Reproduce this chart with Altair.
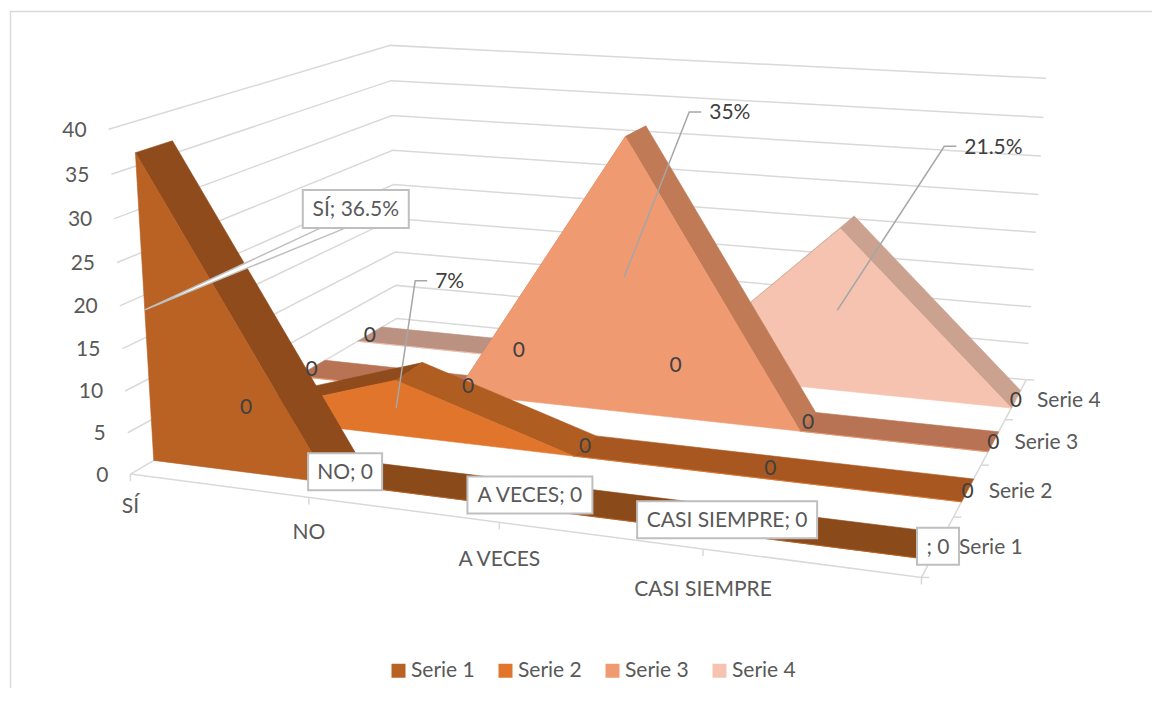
import altair as alt
import numpy as np
import pandas as pd

categories = ["SÍ", "NO", "A VECES", "CASI SIEMPRE", ""]
series_names = ["Serie 1", "Serie 2", "Serie 3", "Serie 4"]
serie_1 = [36.5, 0, 0, 0, 0]
serie_2 = [0, 7, 0, 0, 0]
serie_3 = [0, 0, 35, 0, 0]
serie_4 = [0, 0, 0, 21.5, 0]
all_series = [serie_1, serie_2, serie_3, serie_4]
value_ticks = [0, 5, 10, 15, 20, 25, 30, 35, 40]

FACE = ["#b96224", "#e0752b", "#f09a72", "#f5c3b0"]
RISE = ["#8f4b1b", "#8f4b1b", "#c07a56", "#cba28f"]
FALL = ["#8f4b1b", "#b05d22", "#c07a56", "#cba28f"]
FLAT = ["#8b4a1a", "#a85720", "#b87354", "#bb9182"]
GRID = "#d9d9d9"
AXTXT = "#595959"
LBLTXT = "#404040"
BOXLINE = "#bfbfbf"
FONT = "Lato"
FS = 21

# calibration of the 3-D view: (category, depth, value) -> page pixel
calib = [
    (0, 0, 40, 109, 130), (0, 1, 40, 390, 45), (4, 1, 40, 1046, 78),
    (0, 0, 0, 130, 474), (0, 1, 0, 397, 318), (4, 1, 0, 1026, 379), (4, 0, 0, 922, 577),
    (1, 0, 0, 309, 497), (2, 0, 0, 499, 522), (3, 0, 0, 703, 549),
    (0, .375, 0, 246, 406), (2, .375, 0, 584, 447), (3, .375, 0, 771, 468), (4, .375, 0, 968, 490),
    (0, .625, 0, 312, 368), (1, .625, 0, 468, 386), (3, .625, 0, 807, 423), (4, .625, 0, 993, 442),
    (0, .875, 0, 370, 334), (1, .875, 0, 519, 349), (2, .875, 0, 676, 366), (4, .875, 0, 1016, 399),
    (1, .125, 0, 345, 471), (2, .125, 0, 531, 494), (3, .125, 0, 727, 520), (4, .125, 0, 938, 546),
    (0, 0, 20, 119, 306), (0, 1, 20, 394, 184), (4, 1, 20, 1036, 232),
]
world = np.array([[c / 4, s, v / 40, 1.0] for c, s, v, _, _ in calib])
pix = np.array([[px, py] for _, _, _, px, py in calib], float) / 1000.0
A = []
for w, (px, py) in zip(world, pix):
    A.append(list(w) + [0, 0, 0, 0] + list(-px * w))
    A.append([0, 0, 0, 0] + list(w) + list(-py * w))
p = np.linalg.svd(np.array(A))[2][-1]
p = p / p[-1]


def residual(q):
    M = np.append(q, 1.0).reshape(3, 4)
    h = world @ M.T
    return (h[:, :2] / h[:, 2:] - pix).ravel()


q = p[:-1]
for _ in range(30):
    r0 = residual(q)
    J = np.zeros((r0.size, q.size))
    for j in range(q.size):
        d = np.zeros(q.size)
        d[j] = 1e-6
        J[:, j] = (residual(q + d) - r0) / 1e-6
    q = q - np.linalg.lstsq(J, r0, rcond=None)[0]
P = np.append(q, 1.0).reshape(3, 4)


def proj(c, s, v):
    h = P @ np.array([c / 4, s, v / 40, 1.0])
    return float(h[0] / h[2] * 1000), float(h[1] / h[2] * 1000)


W, H = 1144, 680
X_S = alt.Scale(domain=[8, 8 + W], range=[0, W], nice=False, zero=False)
Y_S = alt.Scale(domain=[8 + H, 8], range=[H, 0], nice=False, zero=False)
X = alt.X("x:Q", scale=X_S, axis=None)
Y = alt.Y("y:Q", scale=Y_S, axis=None)


def frame(points):
    return pd.DataFrame({"x": [p[0] for p in points], "y": [p[1] for p in points], "i": range(len(points))})


def polygon(points, color, sw=0.6, stroke=None):
    pts = list(points) + [points[0]]
    return alt.Chart(frame(pts)).mark_line(fill=color, stroke=stroke or color, strokeWidth=sw).encode(
        x=X, y=Y, order="i:Q")


def path(points, color=GRID, sw=1.5):
    return alt.Chart(frame(points)).mark_line(stroke=color, strokeWidth=sw, strokeCap="butt").encode(
        x=X, y=Y, order="i:Q")


def text(x, y, label, align="center", color=AXTXT):
    df = pd.DataFrame({"x": [x], "y": [y + 1.5], "t": [label]})
    return alt.Chart(df).mark_text(align=align, baseline="middle", font=FONT, fontSize=FS, color=color).encode(
        x=X, y=Y, text="t:N")


def box(cx, cy, w, h, label):
    df = pd.DataFrame({"x": [cx - w / 2], "x2": [cx + w / 2], "y": [cy - h / 2], "y2": [cy + h / 2]})
    r = alt.Chart(df).mark_rect(fill="white", stroke=BOXLINE, strokeWidth=2).encode(
        x=X, x2="x2:Q", y=Y, y2="y2:Q")
    return [r, text(cx, cy, label)]


layers = []

# chart frame
layers.append(path([(10.5, 8 + H), (10.5, 11.5), (8 + W, 11.5)], GRID, 1.5))

# walls and floor
for v in value_ticks:
    layers.append(path([proj(0, 0, v), proj(0, 1, v), proj(4, 1, v)]))
layers.append(path([proj(0, 0, 0), proj(4, 0, 0), proj(4, 1, 0)]))
for c in range(5):
    x, y = proj(c, 0, 0)
    layers.append(path([(x, y), (x, y + 7)]))
for k in range(5):
    x, y = proj(4, k / 4, 0)
    layers.append(path([(x, y), (x + 8, y)]))

# series, back to front
S_FRONT, S_BACK = 0.07, 0.18
for k in [3, 2, 1, 0]:
    vals = all_series[k]
    sf, sb = S_FRONT + .25 * k, S_BACK + .25 * k
    for i in range(4):
        a, b = vals[i], vals[i + 1]
        col = RISE[k] if b > a else FALL[k] if b < a else FLAT[k]
        layers.append(polygon([proj(i, sf, a), proj(i + 1, sf, b), proj(i + 1, sb, b), proj(i, sb, a)], col))
    top = [proj(i, sf, vals[i]) for i in range(5)]
    base = [proj(i, sf, 0) for i in range(4, -1, -1)]
    layers.append(polygon(top + base, FACE[k]))

# value, category and series axis labels
for v in value_ticks:
    x, y = proj(0, 0, v)
    layers.append(text(x - 22, y, str(v), "right"))
for c, name in enumerate(categories[:4]):
    x, y = proj(c, 0, 0)
    layers.append(text(x, y + 31 + 2.7 * c, name))
for k, name in enumerate(series_names):
    x, y = proj(4, .125 + .25 * k, 0)
    layers.append(text(x + 21, y, name, "left"))

# plain data labels for series 2-4
for k in [1, 2, 3]:
    for c, v in enumerate(all_series[k]):
        if v == 0:
            x, y = proj(c, .125 + .25 * k, 0)
            layers.append(text(x, y, "0", color=LBLTXT))

# leader lines with percentage labels
leaders = [(1, 1, 7, "7%", 19, -127), (2, 2, 35, "35%", 65, -165), (3, 3, 21.5, "21.5%", 107, -164)]
for k, c, v, label, dx, dy in leaders:
    x, y = proj(c, S_FRONT + .25 * k, v / 2)
    layers.append(path([(x, y), (x + dx, y + dy), (x + dx + 12, y + dy)], "#a6a6a6", 1.5))
    layers.append(text(x + dx + 20, y + dy, label, "left", LBLTXT))

# callout for series 1, first category
ax, ay = proj(0, S_FRONT, serie_1[0] / 2)
layers.append(polygon([(ax, ay), (ax + 176, ay - 82), (ax + 201, ay - 82)], "white", 1.5, BOXLINE))
layers += box(ax + 211, ay - 101, 106, 38, "SÍ; 36.5%")

# boxed labels for series 1
box_w = [74, 125, 180, 42]
for c in range(1, 5):
    x, y = proj(c, .125, 0)
    layers += box(x, y, box_w[c - 1], 37, f"{categories[c]}; {serie_1[c]}")

# legend
legend_df = pd.DataFrame({"x": [600] * 4, "y": [300] * 4, "name": series_names})
layers.append(alt.Chart(legend_df).mark_point(opacity=0, filled=True, shape="square").encode(
    x=X, y=Y,
    color=alt.Color("name:N", scale=alt.Scale(domain=series_names, range=FACE), legend=alt.Legend(
        orient="none", legendX=380, legendY=652, direction="horizontal", title=None,
        symbolType="square", symbolSize=196, symbolOpacity=1, symbolStrokeWidth=0,
        labelFont=FONT, labelFontSize=FS, labelColor=AXTXT, labelOffset=2, columnPadding=20))))

chart = alt.layer(*layers).properties(width=W, height=H, padding=0, autosize="none").configure_view(strokeWidth=0)
chart.save("out.html", embed_options={"renderer": "svg", "actions": False})
